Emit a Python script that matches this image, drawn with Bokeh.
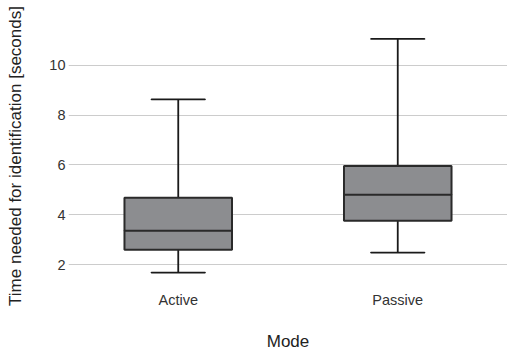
from bokeh.plotting import figure
from bokeh.models import FactorRange, FixedTicker, ColumnDataSource, Range1d
from bokeh.embed import file_html
from bokeh.resources import INLINE

modes = ["Active", "Passive"]
whisker_low = [1.68, 2.48]
q1 = [2.60, 3.76]
median = [3.36, 4.80]
q3 = [4.68, 5.96]
whisker_high = [8.63, 11.06]
y_ticks = [2, 4, 6, 8, 10]

src = ColumnDataSource(dict(mode=modes, lo=whisker_low, q1=q1, med=median, q3=q3, hi=whisker_high))

p = figure(x_range=FactorRange(factors=modes, range_padding=0), y_range=Range1d(1.24, 11.48),
           width=507, height=353, output_backend="svg", toolbar_location=None,
           min_border_left=68, min_border_right=0, min_border_top=28, min_border_bottom=69)
p.outline_line_color = None
p.background_fill_color = "white"
p.xgrid.grid_line_color = None
p.ygrid.grid_line_color = "#cccccc"
p.ygrid.grid_line_width = 1.2
p.yaxis.ticker = FixedTicker(ticks=y_ticks)

font = "Liberation Sans"
for ax in (p.xaxis, p.yaxis):
    ax.axis_line_color = None
    ax.major_tick_line_color = None
    ax.minor_tick_line_color = None
    ax.major_label_text_font = font
    ax.major_label_text_font_size = "14.5px"
    ax.major_label_text_color = "#333333"
    ax.axis_label_text_font = font
    ax.axis_label_text_font_size = "17px"
    ax.axis_label_text_font_style = "normal"
    ax.axis_label_text_color = "#222222"
p.yaxis.major_tick_out = 0
p.xaxis.major_tick_out = 0
p.yaxis.major_label_standoff = 3
p.xaxis.major_label_standoff = 8
p.xaxis.axis_label = "Mode"
p.yaxis.axis_label = "Time needed for identification [seconds]"
p.xaxis.axis_label_standoff = 21
p.yaxis.axis_label_standoff = 21

# whiskers
p.segment(x0="mode", y0="q3", x1="mode", y1="hi", source=src, line_color="#1a1a1a", line_width=1.8)
p.segment(x0="mode", y0="lo", x1="mode", y1="q1", source=src, line_color="#1a1a1a", line_width=1.8)
p.rect(x="mode", y="hi", width=0.245, height=0.0001, source=src, line_color="#1a1a1a", line_width=1.8, fill_color=None)
p.rect(x="mode", y="lo", width=0.245, height=0.0001, source=src, line_color="#1a1a1a", line_width=1.8, fill_color=None)
# boxes
p.vbar(x="mode", top="q3", bottom="q1", width=0.49, source=src, fill_color="#8c8d90",
       line_color="#2a2a2a", line_width=2)
p.rect(x="mode", y="med", width=0.49, height=0.0001, source=src, line_color="#2a2a2a", line_width=2, fill_color=None)

open("out.html", "w").write(file_html(p, INLINE))
